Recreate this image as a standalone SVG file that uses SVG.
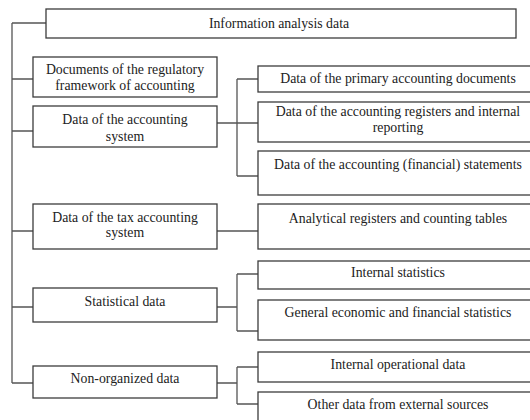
<svg xmlns="http://www.w3.org/2000/svg" width="530" height="420" viewBox="0 0 530 420">
<style>
.b{fill:#fff;stroke:#3c3c3c;stroke-width:1.3}
.t{font-family:"Liberation Serif","Times New Roman",serif;font-size:13.8px;fill:#222;text-anchor:middle}
.c{fill:none;stroke:#555;stroke-width:1.3}
</style>
<rect width="530" height="420" fill="#fff"/>
<g id="connectors" class="c">
<path d="M12 23V383M12 23H46M12 79H33M12 131H33M12 231H33M12 307H33M12 383H33"/>
<path d="M217 123H237M237 79V176M237 79H258M237 123H258M237 176H258"/>
<path d="M217 231H258"/>
<path d="M217 307H237M237 274V331M237 274H258M237 331H258"/>
<path d="M217 383H237M237 367V404M237 367H258M237 404H258"/>
</g>
<g id="n0"><rect class="b" x="46" y="9" width="470" height="29"/><text class="t" x="279" y="28">Information analysis data</text></g>
<g id="n1"><rect class="b" x="33" y="57" width="184" height="40"/><text class="t" x="125" y="74">Documents of the regulatory</text><text class="t" x="125" y="90">framework of accounting</text></g>
<g id="n2"><rect class="b" x="33" y="106" width="184" height="41"/><text class="t" x="125" y="124">Data of the accounting</text><text class="t" x="125" y="141">system</text></g>
<g id="n3"><rect class="b" x="33" y="204" width="184" height="45"/><text class="t" x="125" y="222">Data of the tax accounting</text><text class="t" x="125" y="237">system</text></g>
<g id="n4"><rect class="b" x="33" y="288" width="184" height="34"/><text class="t" x="125" y="306">Statistical data</text></g>
<g id="n5"><rect class="b" x="33" y="366" width="184" height="32"/><text class="t" x="125" y="383">Non-organized data</text></g>
<g id="r1"><rect class="b" x="258" y="66" width="280" height="26"/><text class="t" x="398" y="83">Data of the primary accounting documents</text></g>
<g id="r2"><rect class="b" x="258" y="102" width="280" height="40"/><text class="t" x="398" y="116">Data of the accounting registers and internal</text><text class="t" x="398" y="132">reporting</text></g>
<g id="r3"><rect class="b" x="258" y="151" width="280" height="44"/><text class="t" x="398" y="169">Data of the accounting (financial) statements</text></g>
<g id="r4"><rect class="b" x="258" y="204" width="280" height="45"/><text class="t" x="398" y="223">Analytical registers and counting tables</text></g>
<g id="r5"><rect class="b" x="258" y="261" width="280" height="28"/><text class="t" x="398" y="277">Internal statistics</text></g>
<g id="r6"><rect class="b" x="258" y="300" width="280" height="40"/><text class="t" x="398" y="317">General economic and financial statistics</text></g>
<g id="r7"><rect class="b" x="258" y="352" width="280" height="30"/><text class="t" x="398" y="369">Internal operational data</text></g>
<g id="r8"><rect class="b" x="258" y="392" width="280" height="40"/><text class="t" x="398" y="409">Other data from external sources</text></g>
</svg>
